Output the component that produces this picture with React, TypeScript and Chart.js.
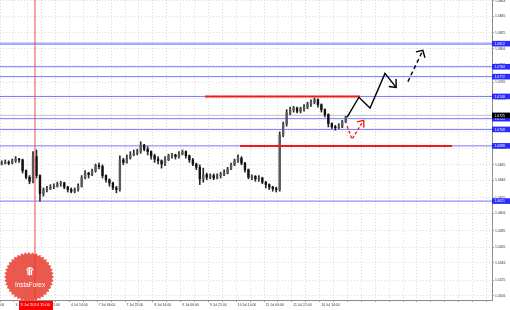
import React, { useEffect, useRef } from 'react';
import { Chart, registerables } from 'chart.js';

Chart.register(...registerables);

// ---- data (EURUSD-style H2 candles) ----
const FIRST_OPEN = 1.0666;
const CLOSES = [
  1.0667, 1.0668, 1.0667, 1.067, 1.0672, 1.0671, 1.0658, 1.065, 1.0645, 1.0675,
  1.0652, 1.063, 1.0635, 1.0636, 1.0638, 1.0639, 1.0642, 1.0643, 1.0638, 1.0635,
  1.0633, 1.0635, 1.0639, 1.0649, 1.0655, 1.0653, 1.0658, 1.0664, 1.0663, 1.0652,
  1.0647, 1.0643, 1.0637, 1.0635, 1.0671, 1.0668, 1.0673, 1.0677, 1.0679, 1.0681,
  1.0689, 1.0684, 1.0681, 1.0676, 1.0672, 1.067, 1.0666, 1.0671, 1.0676, 1.0677,
  1.0675, 1.0678, 1.0681, 1.0676, 1.0671, 1.0666, 1.0662, 1.0648, 1.0653, 1.065,
  1.0652, 1.0649, 1.0652, 1.0653, 1.0655, 1.066, 1.0665, 1.067, 1.0673, 1.0667,
  1.0659, 1.065, 1.0651, 1.0648, 1.0649, 1.0644, 1.0641, 1.0638, 1.0636, 1.0635,
  1.0701, 1.0715, 1.0728, 1.0732, 1.0734, 1.073, 1.0733, 1.0735, 1.0739, 1.0741,
  1.0744, 1.0738, 1.0732, 1.0726, 1.0715, 1.0711, 1.071, 1.0711, 1.0717, 1.0723,
];
const HIGHS = [
  1.067, 1.0671, 1.067, 1.0672, 1.0675, 1.0673, 1.0672, 1.0659, 1.0652, 1.0681,
  1.0683, 1.0653, 1.0637, 1.0639, 1.0641, 1.0642, 1.0644, 1.0645, 1.0644, 1.0639,
  1.0637, 1.0637, 1.0642, 1.0652, 1.0658, 1.0656, 1.066, 1.0666, 1.0667, 1.0665,
  1.0653, 1.0648, 1.0644, 1.0639, 1.0676, 1.0673, 1.0677, 1.0681, 1.0683, 1.0684,
  1.0693, 1.069, 1.0687, 1.0682, 1.0678, 1.0675, 1.0671, 1.0675, 1.0678, 1.0679,
  1.0678, 1.0681, 1.0683, 1.0682, 1.0677, 1.0673, 1.0667, 1.0665, 1.0661, 1.0655,
  1.0654, 1.0654, 1.0654, 1.0656, 1.0659, 1.0662, 1.0667, 1.0672, 1.0677, 1.0675,
  1.0668, 1.066, 1.0653, 1.0652, 1.0652, 1.065, 1.0645, 1.0642, 1.0639, 1.0638,
  1.0705, 1.0717, 1.0732, 1.0735, 1.0736, 1.0735, 1.0735, 1.0738, 1.0741, 1.0744,
  1.0746, 1.0745, 1.0739, 1.0733, 1.0727, 1.0716, 1.0713, 1.0715, 1.0719, 1.0724,
];
const LOWS = [
  1.0665, 1.0666, 1.0665, 1.0666, 1.0668, 1.0668, 1.0655, 1.0648, 1.0642, 1.0643,
  1.0649, 1.0621, 1.0627, 1.0632, 1.0635, 1.0636, 1.0638, 1.0639, 1.0636, 1.0632,
  1.0631, 1.0631, 1.0633, 1.0638, 1.0648, 1.0649, 1.0652, 1.0656, 1.066, 1.0649,
  1.0644, 1.0639, 1.0635, 1.0631, 1.0633, 1.0665, 1.0667, 1.0672, 1.0676, 1.0677,
  1.0679, 1.0682, 1.0677, 1.0672, 1.0668, 1.0666, 1.0661, 1.0664, 1.067, 1.0673,
  1.0672, 1.0673, 1.0677, 1.0673, 1.0668, 1.0664, 1.0659, 1.0641, 1.0644, 1.0647,
  1.0648, 1.0647, 1.0648, 1.0649, 1.0652, 1.0654, 1.0659, 1.0664, 1.0668, 1.0665,
  1.0656, 1.0648, 1.0647, 1.0645, 1.0645, 1.0642, 1.0637, 1.0635, 1.0633, 1.0632,
  1.0633, 1.0699, 1.0712, 1.0726, 1.0729, 1.0728, 1.0728, 1.073, 1.0733, 1.0736,
  1.0739, 1.0735, 1.0729, 1.0723, 1.0711, 1.0709, 1.0707, 1.0709, 1.071, 1.0716,
];

const PRICE_TICKS = [
  1.0506, 1.0525, 1.0546, 1.0565, 1.0585, 1.0606, 1.0625, 1.0646, 1.0665, 1.0685,
  1.0706, 1.0725, 1.0745, 1.0765, 1.0786, 1.0806, 1.0825, 1.0845, 1.0864,
];
const TIME_LABELS = [
  '2 Jul 14:00', '3 Jul 06:00', '3 Jul 22:00', '4 Jul 14:00', '7 Jul 06:00', '7 Jul 22:00',
  '8 Jul 14:00', '9 Jul 06:00', '9 Jul 22:00', '10 Jul 14:00', '11 Jul 06:00', '11 Jul 22:00',
  '14 Jul 14:00',
];
const TIME_LABEL_SLOTS = [-4, 4, 12, 20, 28, 36, 44, 52, 60, 68, 76, 84, 92];

const LEVELS = [1.0812, 1.0784, 1.0772, 1.0748, 1.0721, 1.0708, 1.0688, 1.0621];
const CURRENT_PRICE = 1.0725;

const MARK_SLOT = 10.07;
const MARK_LABEL = '3 Jul 2014 15:00';

const RED_RES = { from: 59.0, to: 103.6, price: 1.0748 };
const RED_SUP = { from: 69.1, to: 130.1, price: 1.0688 };

const BLACK_PATH_X = [99.9, 103.3, 106.5, 110.8, 114.0];
const BLACK_PATH_Y = [1.0723, 1.0747, 1.0734, 1.0776, 1.0759];
const BLACK_HEAD_X = [114.0, 114.0, 111.9];
const BLACK_HEAD_Y = [1.0769, 1.0759, 1.0760];

const DASH_PATH_X = [117.4, 121.6];
const DASH_PATH_Y = [1.0766, 1.0803];
const DASH_HEAD_X = [119.7, 121.7, 122.3];
const DASH_HEAD_Y = [1.0802, 1.0804, 1.0795];

const RED_V_X = [99.9, 101.3, 104.5];
const RED_V_Y = [1.0712, 1.0696, 1.0718];
const RED_HEAD_X = [102.7, 104.7, 104.7];
const RED_HEAD_Y = [1.0717, 1.0719, 1.0710];

// ---- scale setup ----
const X_MAX = 141.6;
const Y_MIN = 1.0501;
const Y_MAX = 1.0865;
const FONT = '"Liberation Sans", Arial, sans-serif';

const zipXY = (xs: number[], ys: number[]) => xs.map((x, i) => ({ x, y: ys[i] }));

function lineDs(data: any[], color: string, width: number, order: number, dash: number[] = []) {
  return {
    type: 'line' as const,
    data,
    borderColor: color,
    borderWidth: width,
    borderDash: dash,
    pointRadius: 0,
    tension: 0,
    fill: false,
    order,
  };
}

const overlayPlugin = {
  id: 'overlay',
  afterDraw(chart: any) {
    const { ctx, scales } = chart;
    const x = scales.x;
    const y = scales.y;
    ctx.save();
    ctx.font = `3.4px ${FONT}`;
    ctx.textBaseline = 'middle';
    ctx.textAlign = 'left';
    LEVELS.forEach((v) => {
      const py = y.getPixelForValue(v);
      ctx.fillStyle = '#2a2aff';
      ctx.fillRect(492, py - 2.8, 18, 5.6);
      ctx.fillStyle = '#ffffff';
      ctx.fillText(v.toFixed(4), 494.5, py + 0.2);
    });
    const cp = y.getPixelForValue(CURRENT_PRICE);
    ctx.fillStyle = '#000000';
    ctx.fillRect(492, cp - 2.8, 18, 5.6);
    ctx.fillStyle = '#ffffff';
    ctx.fillText(CURRENT_PRICE.toFixed(4), 494.5, cp + 0.2);

    // time mark box
    const mx = x.getPixelForValue(MARK_SLOT);
    ctx.fillStyle = '#ff0000';
    ctx.fillRect(mx - 16, 301, 34, 9);
    ctx.fillStyle = '#ffffff';
    ctx.font = `4px ${FONT}`;
    ctx.fillText(MARK_LABEL, mx - 14.5, 305);

    // InstaForex seal
    const cx = 29;
    const cy = 277;
    const teeth = 40;
    ctx.beginPath();
    for (let k = 0; k < teeth * 2; k++) {
      const r = k % 2 === 0 ? 25 : 22.8;
      const a = (Math.PI * k) / teeth;
      const px = cx + r * Math.cos(a);
      const py = cy + r * Math.sin(a);
      if (k === 0) ctx.moveTo(px, py);
      else ctx.lineTo(px, py);
    }
    ctx.closePath();
    ctx.fillStyle = 'rgba(232,60,48,0.86)';
    ctx.fill();
    // emblem
    ctx.strokeStyle = '#ffffff';
    ctx.fillStyle = '#ffffff';
    ctx.lineWidth = 1.1;
    ctx.beginPath();
    ctx.arc(cx + 1, cy - 6, 3.2, Math.PI * 1.05, Math.PI * 1.95);
    ctx.stroke();
    ctx.fillRect(cx - 1.6, cy - 7, 1.2, 5);
    ctx.fillRect(cx + 1.9, cy - 7, 1.2, 5);
    ctx.fillRect(cx - 0.2, cy - 9, 1.6, 7.5);
    ctx.font = `6.4px ${FONT}`;
    ctx.textAlign = 'center';
    ctx.fillText('InstaForex', cx + 1, cy + 8);
    ctx.restore();
  },
};

export default function App() {
  const ref = useRef<HTMLCanvasElement>(null);

  useEffect(() => {
    document.body.style.margin = '0';
    const opens = CLOSES.map((_, i) => (i === 0 ? FIRST_OPEN : CLOSES[i - 1]));
    const bodyColors = CLOSES.map((c, i) => (c >= opens[i] ? '#5a5a5a' : '#111111'));

    const gridSlots: number[] = [-4];
    for (let s = 0; s <= 140; s += 4) gridSlots.push(s);

    const levelDatasets = LEVELS.map((v, i) =>
      lineDs(
        [{ x: 0, y: v }, { x: X_MAX, y: v }],
        i === 0 ? 'rgba(140,140,255,0.75)' : 'rgba(95,95,250,0.85)',
        i === 0 ? 2.4 : 1,
        20,
      ),
    );

    const chart = new Chart(ref.current as HTMLCanvasElement, {
      type: 'bar',
      data: {
        datasets: [
          ...levelDatasets,
          lineDs([{ x: 0, y: CURRENT_PRICE }, { x: X_MAX, y: CURRENT_PRICE }], '#c4c4c4', 1, 19),
          {
            type: 'bar',
            data: CLOSES.map((_, i) => ({ x: i + 0.5, y: [LOWS[i], HIGHS[i]] })),
            backgroundColor: '#2a2a2a',
            barThickness: 1,
            grouped: false,
            order: 10,
          } as any,
          {
            type: 'bar',
            data: CLOSES.map((c, i) => ({ x: i + 0.5, y: [opens[i], c] })),
            backgroundColor: bodyColors,
            barThickness: 1.7,
            minBarLength: 1,
            grouped: false,
            order: 9,
          } as any,
          lineDs([{ x: RED_RES.from, y: RED_RES.price }, { x: RED_RES.to, y: RED_RES.price }], '#f01818', 2, 5),
          lineDs([{ x: RED_SUP.from, y: RED_SUP.price }, { x: RED_SUP.to, y: RED_SUP.price }], '#f01818', 2, 5),
          lineDs(zipXY(BLACK_PATH_X, BLACK_PATH_Y), '#000000', 1.4, 3),
          lineDs(zipXY(BLACK_HEAD_X, BLACK_HEAD_Y), '#000000', 1.4, 3),
          lineDs(zipXY(DASH_PATH_X, DASH_PATH_Y), '#000000', 1.4, 3, [4, 3]),
          lineDs(zipXY(DASH_HEAD_X, DASH_HEAD_Y), '#000000', 1.4, 3),
          lineDs(zipXY(RED_V_X, RED_V_Y), '#f01818', 1.3, 3, [3, 2]),
          lineDs(zipXY(RED_HEAD_X, RED_HEAD_Y), '#f01818', 1.3, 3),
          lineDs([{ x: MARK_SLOT, y: Y_MIN }, { x: MARK_SLOT, y: Y_MAX }], '#f04848', 1, 1),
        ] as any,
      },
      options: {
        responsive: false,
        animation: false,
        devicePixelRatio: 1,
        events: [],
        layout: { padding: 0 },
        plugins: { legend: { display: false }, tooltip: { enabled: false } },
        scales: {
          x: {
            type: 'linear',
            position: 'bottom',
            min: 0,
            max: X_MAX,
            offset: false,
            afterBuildTicks: (scale: any) => {
              scale.ticks = gridSlots.map((v) => ({ value: v }));
            },
            afterFit: (scale: any) => {
              scale.height = 10;
              scale.paddingLeft = 0;
              scale.paddingRight = 0;
              scale.paddingTop = 0;
              scale.paddingBottom = 0;
            },
            grid: {
              offset: false,
              color: '#dcdcdc',
              lineWidth: 1,
              drawTicks: true,
              tickLength: 2,
              tickColor: '#a0a0a0',
            },
            border: { display: true, color: '#8c8c8c', width: 1, dash: [1, 2] },
            ticks: {
              autoSkip: false,
              maxRotation: 0,
              minRotation: 0,
              align: 'start',
              labelOffset: 1.5,
              padding: 1,
              color: '#333333',
              font: { size: 3.4, family: FONT },
              callback: (v: any) => {
                const k = TIME_LABEL_SLOTS.indexOf(Number(v));
                return k >= 0 ? TIME_LABELS[k] : '';
              },
            },
          },
          y: {
            type: 'linear',
            position: 'right',
            min: Y_MIN,
            max: Y_MAX,
            afterBuildTicks: (scale: any) => {
              scale.ticks = PRICE_TICKS.map((v) => ({ value: v }));
            },
            afterFit: (scale: any) => {
              scale.width = 18;
              scale.paddingLeft = 0;
              scale.paddingRight = 0;
              scale.paddingTop = 0;
              scale.paddingBottom = 0;
            },
            grid: {
              color: '#dcdcdc',
              lineWidth: 1,
              drawTicks: true,
              tickLength: 2,
              tickColor: '#a0a0a0',
            },
            border: { display: true, color: '#8c8c8c', width: 1, dash: [1, 2] },
            ticks: {
              autoSkip: false,
              padding: 1,
              color: '#333333',
              font: { size: 3.4, family: FONT },
              callback: (v: any) => Number(v).toFixed(4),
            },
          },
        },
      } as any,
      plugins: [overlayPlugin],
    });
    return () => chart.destroy();
  }, []);

  return (
    <div style={{ position: 'fixed', left: 0, top: 0, width: 510, height: 310, background: '#ffffff' }}>
      <canvas ref={ref} width={510} height={310} style={{ width: 510, height: 310, display: 'block' }} />
    </div>
  );
}
